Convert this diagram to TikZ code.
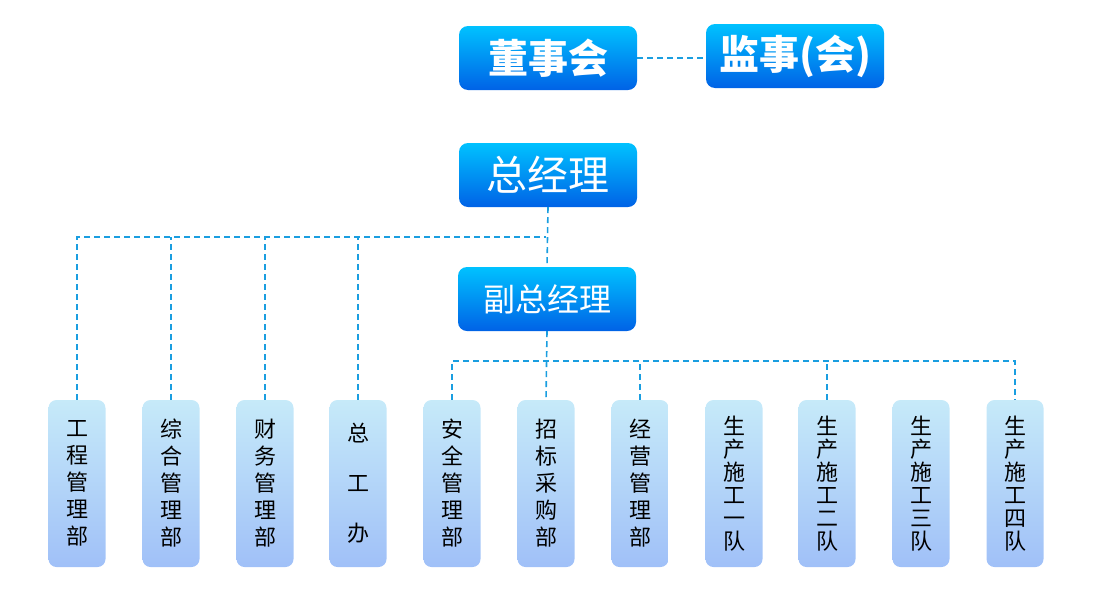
\documentclass[tikz,border=0pt]{standalone}
\usepackage{fontspec}
\newfontfamily\cjk{Noto Sans CJK SC}
\usetikzlibrary{calc}
\definecolor{topA}{HTML}{00C2FF}
\definecolor{topB}{HTML}{0062E6}
\definecolor{botA}{HTML}{C6EAF9}
\definecolor{botB}{HTML}{A0C0F8}
\definecolor{lineC}{HTML}{1A9EE0}
\tikzset{
  x=1pt, y=-1pt,
  headbox/.style={rounded corners=9pt, top color=topA, bottom color=topB, draw=none,
    minimum width=178pt, minimum height=64pt, inner sep=0pt, text=white, font=\cjk},
  deptbox/.style={rounded corners=8pt, top color=botA, bottom color=botB, draw=none,
    minimum width=57pt, minimum height=167pt, inner sep=0pt, text=black, align=center,
    font=\cjk\fontsize{22}{27}\selectfont},
  teambox/.style={deptbox, font=\cjk\fontsize{22}{23}\selectfont},
  conn/.style={draw=lineC, line width=1.6pt, dash pattern=on 6pt off 4pt}
}
\begin{document}
\begin{tikzpicture}
\useasboundingbox (0,0) rectangle (1094,600);
\node[headbox, font=\cjk\bfseries\fontsize{40}{46}\selectfont] (dsh) at (548,58) {董事会};
\node[headbox, font=\cjk\bfseries\fontsize{40}{46}\selectfont] (jsh) at (795,56) {监事(会)};
\node[headbox, font=\cjk\fontsize{41}{46}\selectfont] (zjl) at (548,175) {总经理};
\node[headbox, font=\cjk\fontsize{32}{38}\selectfont] (fzjl) at (547,299) {副总经理};

\node[deptbox] (b1) at (77,483.5) {工\\程\\管\\理\\部};
\node[deptbox] (b2) at (171,483.5) {综\\合\\管\\理\\部};
\node[deptbox] (b3) at (265,483.5) {财\\务\\管\\理\\部};
\node[deptbox, font=\cjk\fontsize{22}{50}\selectfont] (b4) at (358,483.5) {总\\工\\办};
\node[deptbox] (b5) at (452,483.5) {安\\全\\管\\理\\部};
\node[deptbox] (b6) at (546,483.5) {招\\标\\采\\购\\部};
\node[deptbox] (b7) at (640,483.5) {经\\营\\管\\理\\部};
\node[teambox] (b8) at (734,483.5) {生\\产\\施\\工\\一\\队};
\node[teambox] (b9) at (827,483.5) {生\\产\\施\\工\\二\\队};
\node[teambox] (b10) at (921,483.5) {生\\产\\施\\工\\三\\队};
\node[teambox] (b11) at (1015,483.5) {生\\产\\施\\工\\四\\队};

\coordinate (h1) at (546,237);
\coordinate (h2) at (546,361);

\draw[conn] (dsh.east) -- (jsh.west |- dsh.east);
\draw[conn] (zjl.south) -- (fzjl.north);
\draw[conn] (b1.north) |- (h1);
\draw[conn] (b2.north) -- (b2.north |- h1);
\draw[conn] (b3.north) -- (b3.north |- h1);
\draw[conn] (b4.north) -- (b4.north |- h1);
\draw[conn] (fzjl.south) -- (b6.north);
\draw[conn] (b5.north) |- (b11.north |- h2) -- (b11.north);
\draw[conn] (b7.north) -- (b7.north |- h2);
\draw[conn] (b9.north) -- (b9.north |- h2);
\end{tikzpicture}
\end{document}
